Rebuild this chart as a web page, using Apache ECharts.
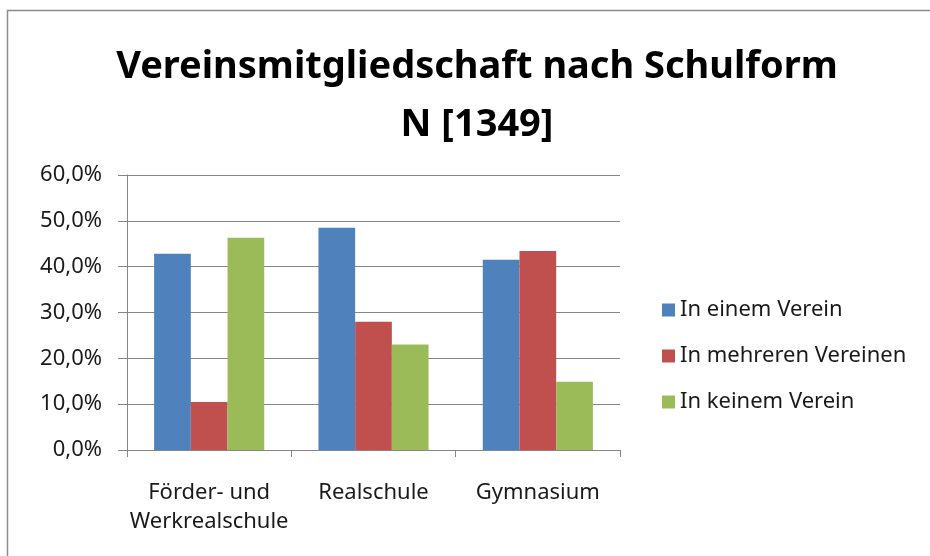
<!DOCTYPE html>
<html>
<head>
<meta charset="utf-8">
<script src="https://cdn.jsdelivr.net/npm/echarts@6/dist/echarts.min.js"></script>
<style>
  html, body { margin: 0; padding: 0; background: #fff; }
  #main { width: 930px; height: 556px; }
</style>
</head>
<body>
<div id="main"></div>
<script>
  // Daten (Anteile in %)
  var categories = ['Förder- und\nWerkrealschule', 'Realschule', 'Gymnasium'];
  var seriesNames = ['In einem Verein', 'In mehreren Vereinen', 'In keinem Verein'];
  var einem = [42.8, 48.5, 41.5];
  var mehreren = [10.5, 28.0, 43.4];
  var keinem = [46.3, 23.0, 14.9];
  var colors = ['#4F81BD', '#C0504D', '#9BBB59'];

  var myChart = echarts.init(document.getElementById('main'));
  var fnt = 'Noto Sans';

  function bar(name, data, color) {
    return {
      name: name,
      type: 'bar',
      data: data,
      barGap: 0,
      barCategoryGap: '33%',
      itemStyle: { color: color },
      emphasis: { disabled: true }
    };
  }

  var option = {
    animation: false,
    backgroundColor: '#fff',
    title: {
      text: 'Vereinsmitgliedschaft nach Schulform\nN [1349]',
      left: 472,
      textAlign: 'center',
      top: 33,
      textStyle: {
        fontFamily: fnt,
        fontWeight: 'bold',
        fontSize: 38,
        lineHeight: 58,
        color: '#000'
      }
    },
    graphic: [{
      type: 'rect',
      shape: { x: 7.5, y: 10.5, width: 940, height: 560 },
      style: { fill: 'none', stroke: '#8c8c8c', lineWidth: 1.5 },
      silent: true
    }],
    legend: {
      orient: 'vertical',
      left: 657,
      top: 294,
      itemGap: 24,
      itemWidth: 13,
      itemHeight: 13,
      icon: 'rect',
      textStyle: { fontFamily: fnt, fontSize: 22, color: '#1a1a1a' },
      data: seriesNames
    },
    grid: { left: 127, right: 310, top: 175, bottom: 106 },
    xAxis: {
      type: 'category',
      data: categories,
      axisLine: { lineStyle: { color: '#868686', width: 1 } },
      axisTick: { show: true, length: 7, lineStyle: { color: '#868686' } },
      axisLabel: {
        interval: 0,
        fontFamily: fnt, fontSize: 22, color: '#1a1a1a',
        margin: 28, lineHeight: 29
      }
    },
    yAxis: {
      type: 'value',
      min: 0,
      max: 60,
      interval: 10,
      axisLine: { show: true, lineStyle: { color: '#868686', width: 1 } },
      axisTick: { show: true, length: 9, lineStyle: { color: '#868686' } },
      splitLine: { lineStyle: { color: '#868686', width: 1 } },
      axisLabel: {
        fontFamily: fnt, fontSize: 22, color: '#1a1a1a', margin: 25,
        formatter: function (v) { return v.toFixed(1).replace('.', ',') + '%'; }
      }
    },
    series: [
      bar(seriesNames[0], einem, colors[0]),
      bar(seriesNames[1], mehreren, colors[1]),
      bar(seriesNames[2], keinem, colors[2])
    ]
  };

  myChart.setOption(option);
</script>
</body>
</html>
